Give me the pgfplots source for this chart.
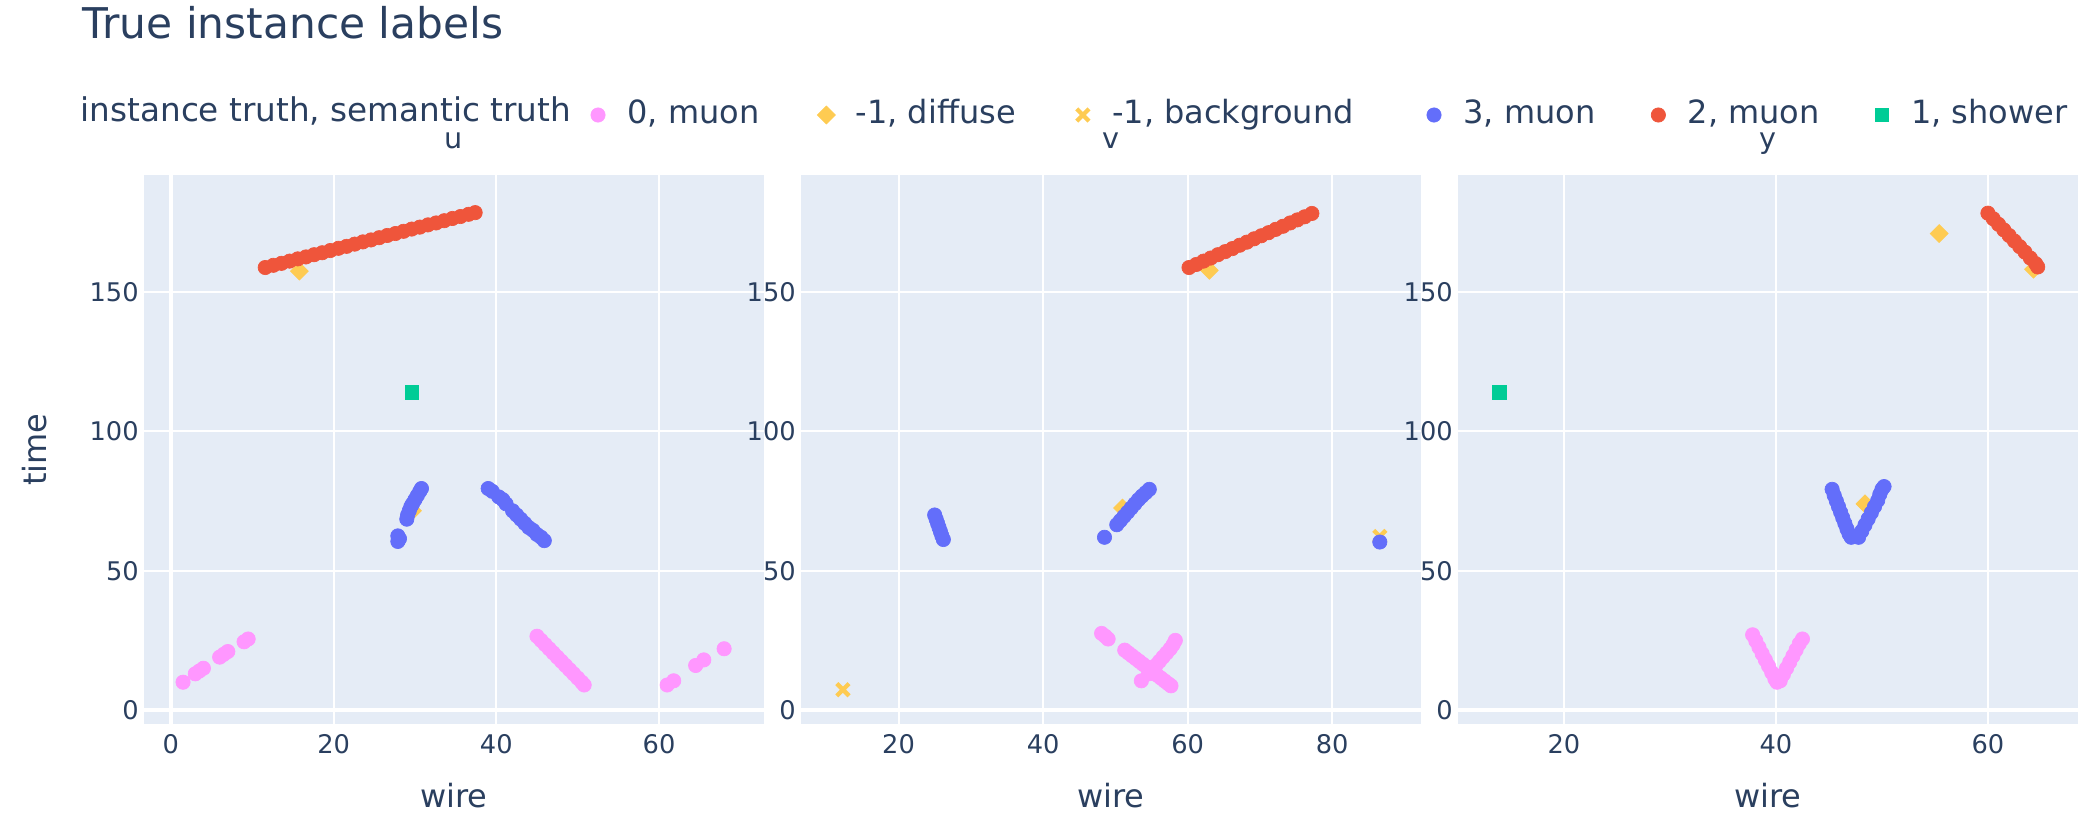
\documentclass[border=0pt]{standalone}
\usepackage{fontspec}
\setmainfont{DejaVu Sans}
\usepackage{pgfplots}
\pgfplotsset{compat=1.18}
\definecolor{cpink}{HTML}{FF97FF}
\definecolor{cyel}{HTML}{FECB52}
\definecolor{cblue}{HTML}{636EFA}
\definecolor{cred}{HTML}{EF553B}
\definecolor{cgreen}{HTML}{00CC96}
\definecolor{cbg}{HTML}{E5ECF6}
\definecolor{ctext}{HTML}{2A3F5F}
\tikzset{
  s0/.style={only marks, mark=*, mark size=2.15pt, color=cpink, mark options={line width=0.2pt}},
  s1/.style={only marks, mark=square*, mark size=1.9pt, color=cyel, mark options={rotate=45, line width=0.2pt}},
  s2/.style={only marks, mark=x, mark size=2.6pt, color=cyel, mark options={line width=1.3pt}},
  s3/.style={only marks, mark=*, mark size=2.15pt, color=cblue, mark options={line width=0.2pt}},
  s4/.style={only marks, mark=*, mark size=2.15pt, color=cred, mark options={line width=0.2pt}},
  s5/.style={only marks, mark=square*, mark size=2pt, color=cgreen, mark options={line width=0.2pt}},
}
\pgfplotsset{
  panel/.style={
    scale only axis, width=186pt, height=164.7pt,
    ymin=-5, ymax=192,
    ytick={50,100,150}, extra y ticks={0},
    axis background/.style={fill=cbg},
    axis line style={draw=none},
    major tick length=0pt,
    grid=major,
    major grid style={white, line width=0.6pt},
    extra y tick style={grid=major, major grid style={white, line width=1.2pt}},
    tick label style={font=\fontsize{7.7}{9}\selectfont, text=ctext},
    /pgf/number format/assume math mode=true,
    xticklabel style={anchor=base, yshift=-8.7pt},
    yticklabel style={anchor=east, inner xsep=0pt, xshift=-1.4pt},
    title style={at={(0.5,1)}, anchor=base, yshift=2.1pt, font=\fontsize{8.6}{10}\selectfont, text=ctext},
    xlabel=wire,
    xlabel style={at={(axis description cs:0.5,-0.153)}, anchor=base, font=\fontsize{9.6}{11}\selectfont, text=ctext},
  },
}
\begin{document}
\begin{tikzpicture}
\path[use as bounding box] (0pt,0pt) rectangle (624.6pt,246.9pt);

% ---------------- panel u ----------------
\begin{axis}[panel,
  at={(43.2pt,29.7pt)}, anchor=south west,
  xmin=-3.3, xmax=72.9,
  xtick={20,40,60}, extra x ticks={0},
  extra x tick style={grid=major, major grid style={white, line width=1.2pt}},
  title=u,
  ylabel=time,
  ylabel style={at={(axis description cs:-0.158,0.5)}, anchor=base, font=\fontsize{9.6}{11}\selectfont, text=ctext},
  legend style={at={(0.7108,1.1117)}, anchor=west, draw=none, fill=none,
    inner sep=0pt, outer sep=0pt, legend columns=-1, column sep=0pt,
    /tikz/every even column/.append style={column sep=16.1pt},
    font=\fontsize{9.6}{11}\selectfont, text=ctext, nodes={inner sep=0pt},
    cells={anchor=base west}},
  legend image code/.code={\path[draw=none, fill=none] (-4pt,-0.4pt) rectangle (8.8pt,5.6pt); \draw[#1] plot coordinates {(0pt,2.5pt)};},
]
\addplot[s0] coordinates {
(1.5,10) (3,13) (3.5,14) (4,15) (6,19) (6.5,20) (7,21) (9,24.5) (9.5,25.5)
(45,26.5) (45.5,25) (46,23.5) (46.5,22) (47,20.5) (47.5,19) (48,17.5) (48.5,16) (49,14.5) (49.5,13) (50,11.5) (50.5,10) (50.8,9)
(61,9) (61.8,10.5) (64.5,16) (65.5,18) (68,22)
};
\addlegendentry{0, muon}
\addplot[s1] coordinates {(15.8,157.5) (29.7,71.5)};
\addlegendentry{-1, diffuse}
\addlegendimage{s2}
\addlegendentry{-1, background\kern4pt}
\addplot[s3] coordinates {
(27.9,60.5) (27.9,62.5) (28.1,61.5) (29,68.5) (29.1,70) (29.3,71.5) (29.5,73) (29.7,74) (30,75.5) (30.3,77) (30.6,78.5) (30.8,79.5)
(39,79.5) (39.5,78.5) (40.3,76.5) (40.8,75.5) (41.2,74) (42,71.5) (42.5,70) (43,68.5) (43.5,67) (44,65.5) (44.5,64.5) (45,63) (45.5,62) (45.9,60.8)
};
\addlegendentry{3, muon\kern-1.2pt}
\addplot[s4] coordinates {
(11.6,158.8) (12.6,159.6) (13.6,160.3) (14.6,161.1) (15.6,161.9) (16.6,162.6) (17.6,163.4) (18.6,164.1) (19.6,164.9) (20.6,165.7)
(21.6,166.4) (22.6,167.2) (23.6,168.0) (24.6,168.7) (25.6,169.5) (26.6,170.3) (27.6,171.0) (28.6,171.8) (29.6,172.6) (30.6,173.3)
(31.6,174.1) (32.6,174.8) (33.6,175.6) (34.6,176.4) (35.6,177.1) (36.6,177.9) (37.4,178.5)
};
\addlegendentry{2, muon\kern-1.5pt}
\addplot[s5] coordinates {(29.6,114)};
\addlegendentry{1, shower}
\end{axis}

% ---------------- panel v ----------------
\begin{axis}[panel,
  at={(240.3pt,29.7pt)}, anchor=south west,
  xmin=6.5, xmax=92.3,
  xtick={20,40,60,80},
  yticklabel={},
  title=v,
]
\addplot[s0] coordinates {
(48.1,27.5) (48.6,26.5) (49,25.5)
(51.3,21.5) (51.8,20.5) (52.3,19.5) (52.8,18.5) (53.3,17.5) (53.8,16.5) (54.3,15.5) (54.8,14.5) (55.3,13.5) (55.8,12.5) (56.3,11.5) (56.8,10.5) (57.3,9.5) (57.7,8.7)
(53.6,10.5) (54.6,13) (55.1,14.5) (55.6,16) (56.1,17.5) (56.6,19) (57.1,20.5) (57.6,22) (58,23.5) (58.3,25)
};
\addplot[s1] coordinates {(63,157.8) (51,72.5)};
\addplot[s2] coordinates {(12.3,7.3) (86.6,62.3)};
\addplot[s3] coordinates {
(25,70) (25.2,68.5) (25.4,67) (25.6,65.5) (25.8,64) (26,62.5) (26.2,61.2)
(48.5,62) (50.2,66.5) (50.7,68) (51.2,69.5) (51.7,71) (52.2,72.5) (52.7,74) (53.2,75.5) (53.7,76.8) (54.2,78) (54.7,79.2)
(86.6,60.3)
};
\addplot[s4] coordinates {
(60.2,158.8) (61.2,159.9) (62.2,161.1) (63.2,162.2) (64.2,163.4) (65.2,164.5) (66.2,165.6) (67.2,166.8) (68.2,167.9)
(69.2,169.1) (70.2,170.2) (71.2,171.3) (72.2,172.5) (73.2,173.6) (74.2,174.8) (75.2,175.9) (76.2,177.0) (77.2,178.2)
};
\end{axis}

% ---------------- panel y ----------------
\begin{axis}[panel,
  at={(437.4pt,29.7pt)}, anchor=south west,
  xmin=10, xmax=68.5,
  xtick={20,40,60},
  yticklabel={},
  title=y,
]
\addplot[s0] coordinates {
(37.8,27) (38.1,24.8) (38.4,22.5) (38.7,20.2) (39,18) (39.3,15.8) (39.6,13.5) (39.9,11.2) (40.1,10)
(40.4,10.5) (40.7,12.8) (41,15) (41.3,17.2) (41.6,19.4) (41.9,21.6) (42.2,23.8) (42.5,25.5)
};
\addplot[s1] coordinates {(48.4,74) (55.4,171) (64.3,158.2)};
\addplot[s3] coordinates {
(45.3,79.2) (45.5,77) (45.7,75) (45.9,73) (46.1,71) (46.3,69) (46.5,67) (46.7,65) (46.9,63.2) (47.1,62)
(47.8,62) (48.1,64.2) (48.4,66.4) (48.7,68.6) (49,70.8) (49.3,73) (49.6,75.2) (49.8,77.4) (50,79.2) (50.2,80.2)
};
\addplot[s4] coordinates {
(60,178.3) (60.5,176.3) (61,174.3) (61.5,172.3) (62,170.3) (62.5,168.3) (63,166.3) (63.5,164.3) (64,162.2) (64.5,160.2) (64.7,159)
};
\addplot[s5] coordinates {(13.9,114)};
\end{axis}

\node[anchor=base west, inner sep=0pt, font=\fontsize{12.7}{15}\selectfont, text=ctext] at (24.6pt,235.3pt) {True instance labels};
\node[anchor=base west, inner sep=0pt, font=\fontsize{9.8}{11}\selectfont, text=ctext] at (24pt,210.4pt) {instance truth, semantic truth};
\end{tikzpicture}
\end{document}
